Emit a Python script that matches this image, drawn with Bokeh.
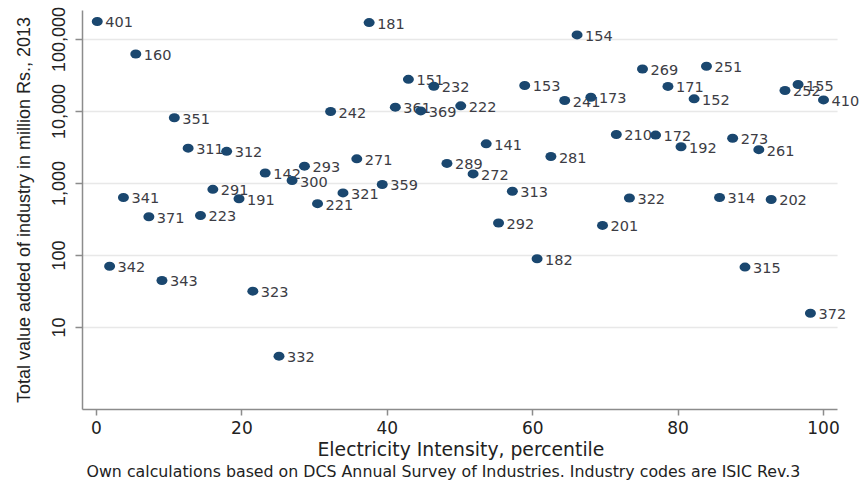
from bokeh.plotting import figure
from bokeh.models import Range1d, FixedTicker, ColumnDataSource, Title
from bokeh.embed import file_html
from bokeh.resources import INLINE
from bokeh.core.properties import value

# Industry codes (ISIC Rev.3), electricity intensity percentile, value added (million Rs., 2013)
codes = ["401", "342", "341", "160", "371", "343", "351", "311", "223", "291",
         "312", "191", "323", "142", "332", "300", "293", "221", "242", "321",
         "271", "181", "359", "361", "151", "369", "232", "289", "222", "272",
         "141", "292", "313", "153", "182", "281", "241", "154", "173", "201",
         "210", "322", "269", "172", "171", "192", "152", "251", "314", "273",
         "315", "261", "202", "252", "155", "372", "410"]
intensity = [0.1, 1.8, 3.7, 5.4, 7.2, 9.0, 10.7, 12.6, 14.3, 16.0,
             17.9, 19.6, 21.5, 23.2, 25.1, 26.9, 28.6, 30.4, 32.2, 33.9,
             35.8, 37.5, 39.3, 41.1, 42.9, 44.6, 46.4, 48.2, 50.1, 51.8,
             53.6, 55.3, 57.2, 58.9, 60.6, 62.5, 64.4, 66.1, 68.0, 69.6,
             71.5, 73.3, 75.1, 76.9, 78.6, 80.4, 82.2, 83.9, 85.7, 87.5,
             89.2, 91.1, 92.8, 94.7, 96.5, 98.2, 100.0]
value_added = [178000, 71, 640, 63000, 345, 45, 8200, 3100, 360, 830,
               2800, 615, 32, 1400, 4.0, 1100, 1740, 525, 10000, 740,
               2200, 172000, 970, 11500, 28000, 10200, 22400, 1900, 12000, 1360,
               3560, 283, 780, 23000, 90, 2370, 14200, 116000, 15800, 262,
               4800, 630, 39000, 4700, 22300, 3240, 15000, 42600, 640, 4260,
               69, 2950, 600, 19600, 23700, 15.8, 14500]

x_ticks = [0, 20, 40, 60, 80, 100]
y_ticks = [10, 100, 1000, 10000, 100000]
y_tick_labels = ["10", "100", "1,000", "10,000", "100,000"]

x_title = "Electricity Intensity, percentile"
y_title = "Total value added of industry in million Rs., 2013"
note = "Own calculations based on DCS Annual Survey of Industries. Industry codes are ISIC Rev.3"

X_LO, X_HI = -1.93, 101.93

src = ColumnDataSource(dict(x=intensity, y=value_added, code=codes))

p = figure(width=859, height=480, output_backend="svg", toolbar_location=None,
           y_axis_type="log",
           x_range=Range1d(X_LO, 104.95), y_range=Range1d(0.726, 2.53e5),
           min_border_left=82, min_border_right=0, min_border_top=10,
           min_border_bottom=71)
p.outline_line_color = None
p.background_fill_color = "white"
p.border_fill_color = "white"

# horizontal grid lines at the y ticks, ending with the x axis line
p.segment(x0=X_LO, x1=X_HI, y0=y_ticks, y1=y_ticks, line_color="#e8e8e8",
          line_width=1.5, level="underlay")

# labels (drawn under markers)
p.text(x="x", y="y", text="code", source=src, x_offset=8, y_offset=1,
       text_baseline="middle", text_align="left",
       text_font=value("DejaVu Sans"), text_font_size="14.5px",
       text_color="#3c3c44")
p.ellipse(x="x", y="y", width=11, height=9, width_units="screen",
          height_units="screen", source=src, fill_color="#1a476f",
          line_color=None)

axis_col = "#8c8c8c"
for ax in (p.xaxis[0], p.yaxis[0]):
    ax.axis_line_color = axis_col
    ax.axis_line_width = 1.5
    ax.major_tick_line_color = axis_col
    ax.major_tick_line_width = 1.5
    ax.major_tick_in = 0
    ax.minor_tick_line_color = None
    ax.major_label_text_color = "#222222"
    ax.axis_label_text_color = "#222222"
    ax.axis_label_text_font_style = "normal"

xa = p.xaxis[0]
xa.ticker = FixedTicker(ticks=x_ticks)
xa.bounds = (X_LO, X_HI)
xa.major_tick_out = 6
xa.major_label_text_font = "DejaVu Sans"
xa.major_label_text_font_size = "17px"
xa.major_label_standoff = 5

ya = p.yaxis[0]
ya.ticker = FixedTicker(ticks=y_ticks)
ya.major_label_overrides = {t: l for t, l in zip(y_ticks, y_tick_labels)}
ya.major_label_orientation = "vertical"
ya.major_tick_out = 7
ya.major_label_text_font = "Liberation Sans"
ya.major_label_text_font_size = "18px"
ya.major_label_standoff = 10
ya.axis_label = y_title
ya.axis_label_text_font = "Liberation Sans"
ya.axis_label_text_font_size = "18px"
ya.axis_label_standoff = 16

p.xgrid.grid_line_color = None
p.ygrid.grid_line_color = None

# x-axis title (centred under the drawn axis line) and source note
p.add_layout(Title(text=x_title, align="left", offset=235, standoff=0,
                   text_font="DejaVu Sans", text_font_size="18.8px",
                   text_font_style="normal", text_color="#222222"), "below")
p.add_layout(Title(text=note, align="left", offset=4, standoff=0,
                   text_font="DejaVu Sans", text_font_size="15.8px",
                   text_font_style="normal", text_color="#222222"), "below")

open("out.html", "w").write(file_html(p, INLINE))
